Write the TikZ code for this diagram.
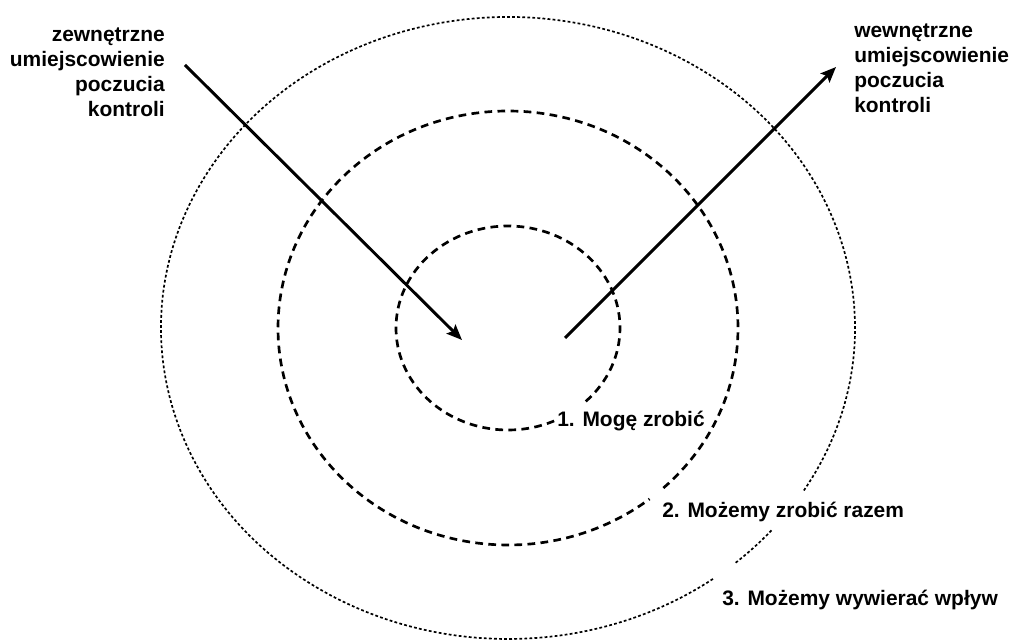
\documentclass[tikz,border=0pt]{standalone}
\usepackage{fontspec}
\setmainfont{Liberation Sans}
\usepackage{tikz}
\usetikzlibrary{arrows.meta,positioning,calc}

\begin{document}
\begin{tikzpicture}[
  lbl/.style={font=\fontsize{14.9}{17.8}\selectfont\bfseries,inner sep=0pt},
  ring/.style={line width=1.9pt,dash pattern=on 5.5pt off 3.8pt},
  outerring/.style={line width=1.2pt,dash pattern=on 2pt off 1.6pt},
  locus/.style={line width=2.1pt,-{Stealth[length=11pt,width=9pt,inset=2pt]}},
]
\useasboundingbox (-12.7,-7.8) rectangle (12.65,8.2);
\coordinate (c) at (0,0);

% Rings
\draw[ring] (c) ++(-46:2.8 and 2.55) arc[start angle=-46,end angle=296,x radius=2.8,y radius=2.55];
\draw[ring] (c) ++(-47.5:5.75 and 5.425) arc[start angle=-47.5,end angle=308,x radius=5.75,y radius=5.425];
\draw[outerring] (c) ++(-31.5:8.675 and 7.775) arc[start angle=-31.5,end angle=306.5,x radius=8.675,y radius=7.775];
\draw[outerring] (c) ++(-49:8.675 and 7.775) arc[start angle=-49,end angle=-40.5,x radius=8.675,y radius=7.775];

% Labels
\node[lbl,anchor=base west] (ring1) at (1.225,-2.475) {1. Mogę zrobić};
\node[lbl,anchor=base west] (ring2) at (3.85,-4.725) {2. Możemy zrobić razem};
\node[lbl,anchor=base west] (ring3) at (5.35,-6.925) {3. Możemy wywierać wpływ};

% base = last line
\node[lbl,align=right,anchor=base east] (ext) at (-8.575,5.275) {zewnętrzne\\umiejscowienie\\poczucia\\kontroli};
\node[lbl,align=left,anchor=base west] (int) at (8.65,5.375) {wewnętrzne\\umiejscowienie\\poczucia\\kontroli};

% Arrows
\coordinate (extfrom) at (-8.075,6.575);
\coordinate (extto) at (-1.15,-0.3);
\coordinate (intfrom) at (1.425,-0.25);
\coordinate (intto) at (8.2,6.525);
\draw[locus] (extfrom) -- (extto);
\draw[locus] (intfrom) -- (intto);

\end{tikzpicture}
\end{document}
